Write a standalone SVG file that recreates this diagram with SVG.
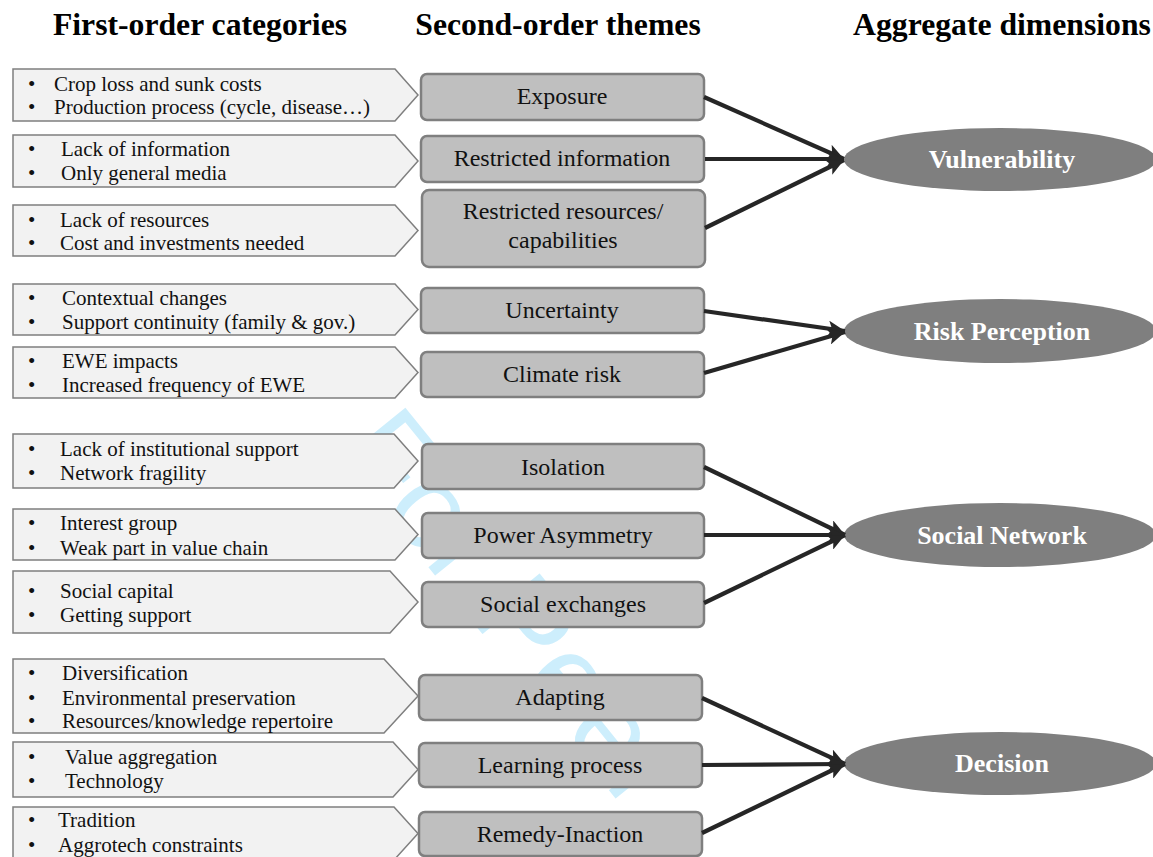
<svg xmlns="http://www.w3.org/2000/svg" width="1153" height="857" viewBox="0 0 1153 857">
<defs>
<style>
.hdr{font-family:"Liberation Serif","Times New Roman",serif;font-weight:bold;font-size:31.7px;fill:#000;text-anchor:middle}
.cat{fill:#f2f2f2;stroke:#7f7f7f;stroke-width:1.5}
.ct{font-family:"Liberation Serif","Times New Roman",serif;font-size:21px;fill:#111}
.th{fill:#bfbfbf;stroke:#7f7f7f;stroke-width:2.5}
.tt{font-family:"Liberation Serif","Times New Roman",serif;font-size:24px;fill:#111;text-anchor:middle}
.dim{fill:#7f7f7f}
.dt{font-family:"Liberation Serif","Times New Roman",serif;font-weight:bold;font-size:26px;fill:#fff;text-anchor:middle}
.con{stroke:#262626;stroke-width:4.2;fill:none;marker-end:url(#ah)}
.wm{font-family:"Liberation Sans",Arial,sans-serif;font-size:120px;fill:#cdeefc}
</style>
<marker id="ah" markerUnits="userSpaceOnUse" markerWidth="18" markerHeight="16" refX="17" refY="8" orient="auto">
<path d="M0,0 L17,8 L0,16 L4,8 Z" fill="#262626"/>
</marker>
</defs>
<rect x="0" y="0" width="1153" height="857" fill="#fff"/>
<text class="wm" x="335" y="452" transform="rotate(51 335 452)">For Peer</text>

<g id="headers">
<text class="hdr" x="200" y="35">First-order categories</text>
<text class="hdr" x="558" y="35">Second-order themes</text>
<text class="hdr" x="1002" y="35">Aggregate dimensions</text>
</g>

<g id="cat1"><polygon class="cat" points="13,69 395,69 418,95 395,121 13,121"/>
<text class="ct" x="28" y="91">•</text><text class="ct" x="54" y="91">Crop loss and sunk costs</text>
<text class="ct" x="28" y="114">•</text><text class="ct" x="54" y="114">Production process (cycle, disease…)</text></g>
<g id="cat2"><polygon class="cat" points="13,135 395,135 418,161 395,187 13,187"/>
<text class="ct" x="28" y="156">•</text><text class="ct" x="61" y="156">Lack of information</text>
<text class="ct" x="28" y="180">•</text><text class="ct" x="61" y="180">Only general media</text></g>
<g id="cat3"><polygon class="cat" points="13,205 395,205 418,230.5 395,256 13,256"/>
<text class="ct" x="28" y="227">•</text><text class="ct" x="60" y="227">Lack of resources</text>
<text class="ct" x="28" y="250">•</text><text class="ct" x="60" y="250">Cost and investments needed</text></g>
<g id="cat4"><polygon class="cat" points="13,284 395,284 418,309.5 395,335 13,335"/>
<text class="ct" x="28" y="305">•</text><text class="ct" x="62" y="305">Contextual changes</text>
<text class="ct" x="28" y="329">•</text><text class="ct" x="62" y="329">Support continuity (family &amp; gov.)</text></g>
<g id="cat5"><polygon class="cat" points="13,347 395,347 418,372.5 395,398 13,398"/>
<text class="ct" x="28" y="368">•</text><text class="ct" x="62" y="368">EWE impacts</text>
<text class="ct" x="28" y="392">•</text><text class="ct" x="62" y="392">Increased frequency of EWE</text></g>
<g id="cat6"><polygon class="cat" points="13,434 394,434 418,461 394,488 13,488"/>
<text class="ct" x="28" y="456">•</text><text class="ct" x="60" y="456">Lack of institutional support</text>
<text class="ct" x="28" y="480">•</text><text class="ct" x="60" y="480">Network fragility</text></g>
<g id="cat7"><polygon class="cat" points="13,509 395,509 418,534.5 395,560 13,560"/>
<text class="ct" x="28" y="530">•</text><text class="ct" x="60" y="530">Interest group</text>
<text class="ct" x="28" y="555">•</text><text class="ct" x="60" y="555">Weak part in value chain</text></g>
<g id="cat8"><polygon class="cat" points="13,571 390,571 418,602 390,633 13,633"/>
<text class="ct" x="28" y="598">•</text><text class="ct" x="60" y="598">Social capital</text>
<text class="ct" x="28" y="622">•</text><text class="ct" x="60" y="622">Getting support</text></g>
<g id="cat9"><polygon class="cat" points="13,659 384,659 418,696 384,733 13,733"/>
<text class="ct" x="28" y="680">•</text><text class="ct" x="62" y="680">Diversification</text>
<text class="ct" x="28" y="705">•</text><text class="ct" x="62" y="705">Environmental  preservation</text>
<text class="ct" x="28" y="728">•</text><text class="ct" x="62" y="728">Resources/knowledge repertoire</text></g>
<g id="cat10"><polygon class="cat" points="13,742 393,742 418,769.5 393,797 13,797"/>
<text class="ct" x="28" y="764">•</text><text class="ct" x="65" y="764">Value aggregation</text>
<text class="ct" x="28" y="788">•</text><text class="ct" x="65" y="788">Technology</text></g>
<g id="cat11"><polygon class="cat" points="13,807 394,807 418,833.5 394,860 13,860"/>
<text class="ct" x="28" y="827">•</text><text class="ct" x="58" y="827">Tradition</text>
<text class="ct" x="28" y="852">•</text><text class="ct" x="58" y="852">Aggrotech constraints</text></g>

<g id="th-exposure"><rect class="th" x="421" y="74" width="283" height="46" rx="6"/><text class="tt" x="562" y="104">Exposure</text></g>
<g id="th-info"><rect class="th" x="421" y="136" width="283" height="46" rx="6"/><text class="tt" x="562" y="166">Restricted information</text></g>
<g id="th-resources"><rect class="th" x="422" y="190" width="283" height="77" rx="7"/><text class="tt" x="563" y="219">Restricted resources/</text><text class="tt" x="563" y="248">capabilities</text></g>
<g id="th-uncertainty"><rect class="th" x="421" y="288" width="283" height="45" rx="6"/><text class="tt" x="562" y="318">Uncertainty</text></g>
<g id="th-climate"><rect class="th" x="421" y="352" width="283" height="45" rx="6"/><text class="tt" x="562" y="382">Climate risk</text></g>
<g id="th-isolation"><rect class="th" x="422" y="444" width="282" height="45" rx="6"/><text class="tt" x="563" y="475">Isolation</text></g>
<g id="th-power"><rect class="th" x="422" y="513" width="282" height="45" rx="6"/><text class="tt" x="563" y="543">Power Asymmetry</text></g>
<g id="th-social"><rect class="th" x="422" y="582" width="282" height="45" rx="6"/><text class="tt" x="563" y="612">Social exchanges</text></g>
<g id="th-adapting"><rect class="th" x="419" y="675" width="283" height="45" rx="6"/><text class="tt" x="560" y="705">Adapting</text></g>
<g id="th-learning"><rect class="th" x="419" y="743" width="283" height="44" rx="6"/><text class="tt" x="560" y="773">Learning process</text></g>
<g id="th-remedy"><rect class="th" x="419" y="812" width="283" height="44" rx="6"/><text class="tt" x="560" y="842">Remedy-Inaction</text></g>

<g id="dim-vulnerability"><ellipse class="dim" cx="1000" cy="159.5" rx="156" ry="31.5"/><text class="dt" x="1002" y="168">Vulnerability</text></g>
<g id="dim-risk"><ellipse class="dim" cx="1000" cy="331" rx="156" ry="32"/><text class="dt" x="1002" y="340">Risk Perception</text></g>
<g id="dim-social"><ellipse class="dim" cx="1000" cy="535" rx="156" ry="32"/><text class="dt" x="1002" y="544">Social Network</text></g>
<g id="dim-decision"><ellipse class="dim" cx="1000" cy="763.5" rx="156" ry="31.5"/><text class="dt" x="1002" y="772">Decision</text></g>

<g id="connectors">
<line class="con" x1="704" y1="97" x2="844" y2="159"/>
<line class="con" x1="705" y1="159" x2="844" y2="159"/>
<line class="con" x1="705" y1="228" x2="844" y2="160"/>
<line class="con" x1="704" y1="311" x2="845" y2="331"/>
<line class="con" x1="704" y1="373" x2="845" y2="332"/>
<line class="con" x1="704" y1="467" x2="845" y2="535"/>
<line class="con" x1="704" y1="535" x2="845" y2="535"/>
<line class="con" x1="704" y1="603" x2="845" y2="535"/>
<line class="con" x1="702" y1="698" x2="845" y2="764"/>
<line class="con" x1="702" y1="765" x2="845" y2="764"/>
<line class="con" x1="702" y1="833" x2="845" y2="764"/>
</g>
</svg>
